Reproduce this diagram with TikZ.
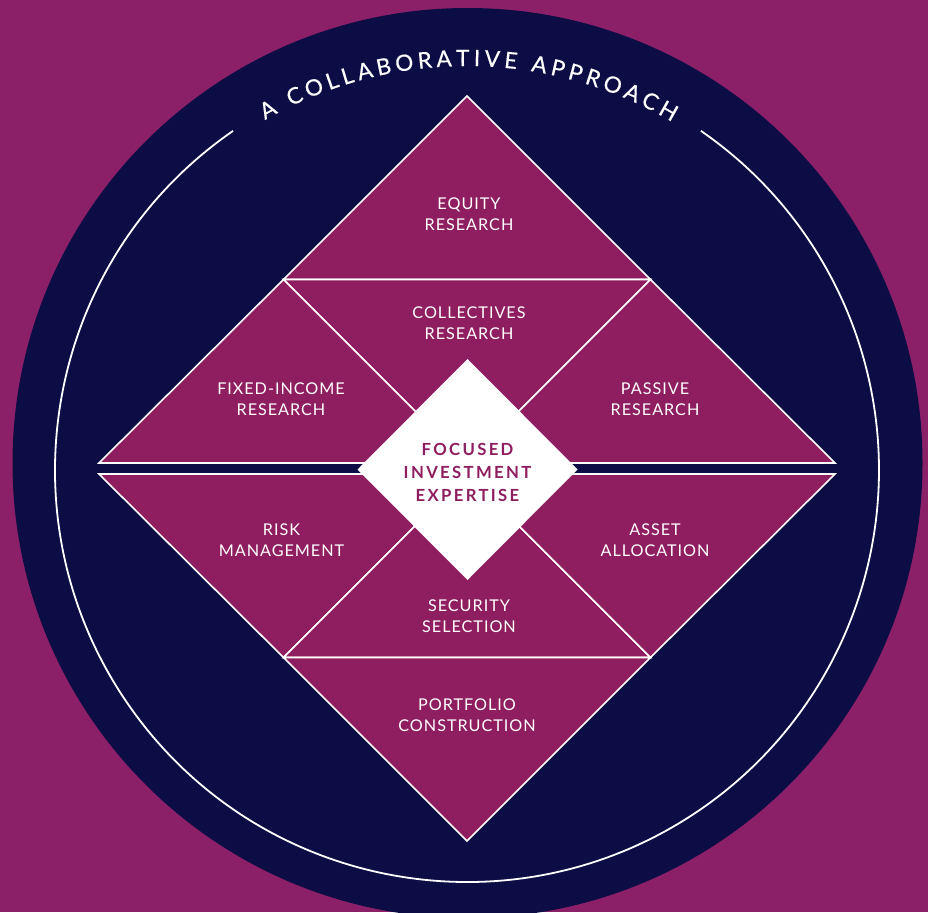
\documentclass[tikz,border=0pt]{standalone}
\usepackage{fontspec}
\setmainfont{Lato}
\usetikzlibrary{decorations.text}
\definecolor{bgpurple}{HTML}{8B2068}
\definecolor{navy}{HTML}{0C0D45}
\definecolor{tri}{HTML}{8F1E60}
\tikzset{
  tribox/.style={fill=tri, draw=white, line width=1.6pt, line join=miter},
  lbl/.style={text=white, align=center, inner sep=0pt,
    font=\fontsize{16.2}{20.7}\selectfont\addfontfeatures{LetterSpace=6}},
  corelbl/.style={text=tri, align=center, inner sep=0pt,
    font=\fontsize{16.7}{23.2}\selectfont\bfseries\addfontfeatures{LetterSpace=14}},
  ring/.style={draw=white, line width=1.8pt}
}
\begin{document}
\begin{tikzpicture}[x=1pt,y=1pt]
\useasboundingbox (0,0) rectangle (928,-912);
\clip (0,0) rectangle (928,-912);
\fill[bgpurple] (0,0) rectangle (928,-912);
\fill[navy] (467.5,-463) circle (455);
% inner ring with gap for title
\coordinate (rc) at (467,-470);
\draw[ring] (rc) ++(124.6:412) arc[start angle=124.6, end angle=415.4, radius=412];
% title on arc
\path[decorate, decoration={text along path, text align={fit to path},
  text={|\fontsize{22.5}{22.5}\selectfont\addfontfeatures{FakeBold=0.5}\color{white}|A COLLABORATIVE APPROACH}}]
  (rc) ++(120:404) arc[start angle=120, end angle=59.5, radius=404];
% upper half
\coordinate (T) at (467,-96);
\coordinate (UL) at (283.5,-279.5);
\coordinate (UR) at (650.5,-279.5);
\coordinate (LU) at (99,-463);
\coordinate (RU) at (835,-463);
\coordinate (CU) at (467,-463);
% lower half
\coordinate (B) at (467,-841);
\coordinate (DL) at (283.5,-657.5);
\coordinate (DR) at (650.5,-657.5);
\coordinate (LD) at (99,-474);
\coordinate (RD) at (835,-474);
\coordinate (CD) at (467,-474);
\draw[tribox] (T) -- (UR) -- (UL) -- cycle;
\draw[tribox] (UL) -- (UR) -- (CU) -- cycle;
\draw[tribox] (LU) -- (UL) -- (CU) -- cycle;
\draw[tribox] (UR) -- (RU) -- (CU) -- cycle;
\draw[tribox] (LD) -- (CD) -- (DL) -- cycle;
\draw[tribox] (DL) -- (DR) -- (CD) -- cycle;
\draw[tribox] (CD) -- (RD) -- (DR) -- cycle;
\draw[tribox] (DL) -- (DR) -- (B) -- cycle;
% centre diamond
\fill[white] (467.5,-359) -- (577.5,-469.5) -- (467.5,-580) -- (357.5,-469.5) -- cycle;
\node[corelbl] (core) at (467.5,-472.5) {FOCUSED\\INVESTMENT\\EXPERTISE};
% labels
\node[lbl] (equity) at (469,-214.3) {EQUITY\\RESEARCH};
\node[lbl] (collect) at (469,-323.3) {COLLECTIVES\\RESEARCH};
\node[lbl] (fixed) at (281,-399.5) {FIXED-INCOME\\RESEARCH};
\node[lbl] (passive) at (655,-399.5) {PASSIVE\\RESEARCH};
\node[lbl] (risk) at (281.5,-540.5) {RISK\\MANAGEMENT};
\node[lbl] (asset) at (655,-540.5) {ASSET\\ALLOCATION};
\node[lbl] (security) at (469,-616) {SECURITY\\SELECTION};
\node[lbl] (portfolio) at (467,-715.5) {PORTFOLIO\\CONSTRUCTION};
\end{tikzpicture}
\end{document}
